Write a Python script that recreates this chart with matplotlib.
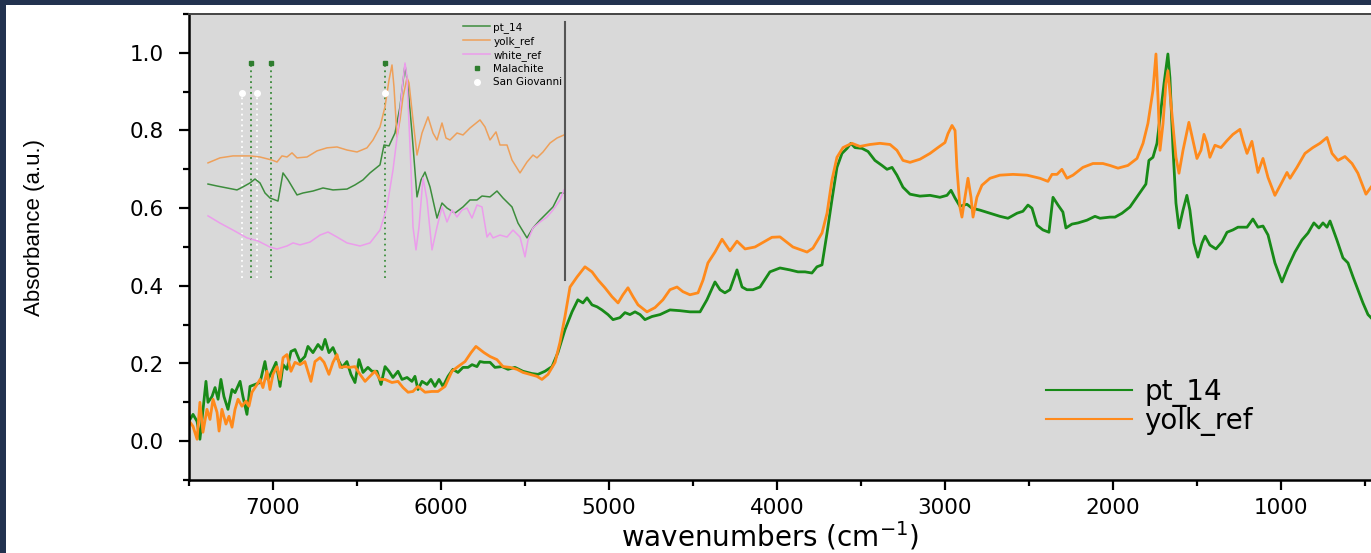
import numpy as np
import matplotlib
matplotlib.use("Agg")
import matplotlib.pyplot as plt
from matplotlib.patches import Rectangle
from matplotlib.ticker import MultipleLocator

# main spectra (wavenumber, absorbance)
pt14_wn = [7494, 7476, 7452, 7435, 7417, 7399, 7387, 7363, 7345, 7327, 7310, 7292, 7268, 7244,
           7226, 7196, 7179, 7155, 7137, 7107, 7077, 7048, 7030, 7006, 6982, 6958, 6940, 6917,
           6893, 6869, 6839, 6810, 6792, 6762, 6732, 6708, 6690, 6667, 6643, 6613, 6589, 6560,
           6536, 6512, 6488, 6464, 6435, 6411, 6381, 6357, 6333, 6310, 6286, 6256, 6232, 6202,
           6173, 6155, 6137, 6113, 6083, 6060, 6036, 6012, 5988, 5958, 5929, 5899, 5869, 5839,
           5815, 5786, 5768, 5744, 5708, 5679, 5637, 5601, 5560, 5512, 5458, 5423, 5381, 5339,
           5304, 5262, 5220, 5185, 5155, 5131, 5101, 5071, 5042, 5006, 4976, 4935, 4905, 4875,
           4845, 4815, 4786, 4744, 4696, 4637, 4577, 4518, 4458, 4417, 4369, 4339, 4310, 4280,
           4238, 4208, 4179, 4143, 4101, 4042, 3982, 3923, 3875, 3833, 3792, 3762, 3732, 3702,
           3673, 3643, 3613, 3583, 3560, 3536, 3494, 3458, 3417, 3375, 3345, 3315, 3286, 3250,
           3208, 3149, 3089, 3030, 2988, 2964, 2940, 2911, 2869, 2839, 2792, 2732, 2673, 2625,
           2571, 2536, 2506, 2482, 2452, 2417, 2381, 2357, 2327, 2298, 2280, 2244, 2208, 2155,
           2107, 2077, 2018, 1988, 1946, 1899, 1851, 1804, 1786, 1762, 1738, 1720, 1696, 1673,
           1661, 1643, 1625, 1607, 1583, 1560, 1542, 1518, 1494, 1470, 1452, 1423, 1387, 1351,
           1321, 1286, 1256, 1202, 1167, 1137, 1107, 1077, 1036, 994, 958, 917, 875, 839, 804,
           774, 750, 726, 708, 667, 631, 601, 571, 542, 512, 482, 464]
pt14_abs = [.056, .069, .051, .005, .080, .154, .100, .115, .138, .108, .159, .115, .082, .133,
            .125, .154, .115, .069, .141, .146, .151, .205, .159, .180, .203, .141, .197, .185,
            .231, .236, .205, .218, .244, .228, .249, .236, .262, .228, .241, .210, .190, .205,
            .172, .151, .210, .177, .190, .180, .180, .146, .192, .180, .164, .180, .159, .164,
            .154, .167, .133, .154, .146, .159, .141, .159, .141, .167, .185, .177, .190, .190,
            .197, .192, .205, .203, .203, .190, .192, .185, .190, .180, .174, .172, .180, .192,
            .228, .287, .333, .364, .356, .369, .351, .346, .338, .326, .313, .318, .331, .326,
            .333, .326, .313, .321, .326, .338, .336, .333, .333, .364, .410, .390, .382, .390,
            .441, .397, .390, .390, .397, .436, .446, .441, .436, .436, .433, .449, .454, .536,
            .621, .705, .741, .754, .767, .756, .754, .746, .723, .710, .700, .705, .685, .654,
            .636, .631, .633, .628, .633, .646, .626, .605, .610, .600, .595, .587, .579, .574,
            .587, .592, .608, .600, .556, .544, .538, .628, .608, .590, .549, .559, .562, .569,
            .579, .574, .577, .577, .587, .603, .633, .662, .723, .731, .767, .833, .921, .997,
            .936, .756, .613, .549, .595, .633, .595, .510, .474, .510, .528, .505, .495, .513,
            .538, .544, .551, .551, .572, .551, .554, .531, .459, .410, .449, .487, .518, .536, .562,
            .549, .562, .551, .567, .518, .472, .459, .423, .390, .356, .326, .318]

yolk_wn = [7494, 7476, 7452, 7435, 7417, 7393, 7375, 7357, 7333, 7321, 7304, 7280, 7262, 7244,
           7226, 7208, 7185, 7161, 7143, 7125, 7095, 7077, 7060, 7036, 7018, 7000, 6976, 6958,
           6940, 6917, 6893, 6869, 6839, 6810, 6774, 6750, 6720, 6696, 6667, 6643, 6619, 6601,
           6571, 6542, 6512, 6482, 6452, 6423, 6393, 6363, 6333, 6292, 6256, 6226, 6196, 6167,
           6137, 6095, 6054, 6018, 5976, 5935, 5899, 5857, 5821, 5792, 5768, 5744, 5708, 5667,
           5631, 5589, 5548, 5512, 5470, 5429, 5399, 5363, 5321, 5292, 5262, 5232, 5190, 5143,
           5101, 5065, 5024, 4982, 4946, 4917, 4887, 4857, 4827, 4774, 4726, 4679, 4637, 4595,
           4560, 4518, 4470, 4440, 4411, 4369, 4327, 4280, 4238, 4190, 4131, 4071, 4030, 3982,
           3905, 3821, 3786, 3732, 3702, 3673, 3643, 3607, 3554, 3506, 3446, 3387, 3327, 3286,
           3250, 3208, 3149, 3089, 3042, 3000, 2982, 2958, 2940, 2929, 2911, 2899, 2881, 2863,
           2845, 2833, 2810, 2780, 2732, 2673, 2595, 2512, 2435, 2387, 2363, 2333, 2304, 2274,
           2238, 2179, 2119, 2060, 2018, 1970, 1911, 1857, 1821, 1792, 1762, 1744, 1732, 1720,
           1702, 1685, 1673, 1649, 1625, 1607, 1583, 1548, 1524, 1500, 1476, 1458, 1440, 1423,
           1393, 1357, 1321, 1286, 1244, 1226, 1202, 1173, 1137, 1107, 1077, 1036, 994, 964, 946,
           905, 857, 810, 768, 726, 696, 661, 619, 577, 542, 494, 464]
yolk_abs = [.049, .038, .005, .100, .023, .082, .056, .108, .074, .026, .082, .044, .064, .036,
            .082, .108, .090, .103, .090, .126, .146, .159, .138, .180, .133, .172, .192, .159,
            .215, .223, .180, .203, .197, .205, .154, .205, .215, .203, .172, .203, .223, .190,
            .192, .190, .192, .172, .154, .167, .180, .159, .159, .151, .154, .138, .126, .128,
            .141, .126, .128, .128, .141, .180, .192, .205, .228, .244, .236, .228, .218, .210,
            .192, .190, .185, .177, .172, .167, .159, .172, .203, .254, .321, .397, .423, .449,
            .436, .415, .395, .372, .356, .377, .395, .372, .351, .333, .344, .364, .390, .397,
            .385, .377, .382, .415, .459, .487, .520, .490, .515, .495, .500, .515, .525, .526,
            .500, .487, .497, .536, .587, .672, .731, .756, .767, .759, .764, .767, .764, .749,
            .723, .718, .726, .741, .756, .769, .792, .813, .800, .705, .603, .577, .628, .677,
            .628, .577, .628, .659, .677, .685, .687, .685, .677, .669, .687, .687, .700, .677,
            .685, .705, .715, .715, .710, .703, .710, .728, .767, .818, .903, .997, .885, .749,
            .818, .921, .954, .844, .731, .690, .749, .821, .774, .728, .749, .790, .767, .731,
            .762, .756, .774, .790, .803, .774, .741, .772, .692, .728, .679, .633, .667, .692,
            .677, .705, .741, .756, .767, .782, .741, .723, .733, .715, .690, .636, .654]

# inset spectra (arbitrary units)
in_pt14_x = [3970, 3880, 3780, 3680, 3620, 3550, 3500, 3450, 3400, 3350, 3270, 3220, 3170, 3080,
             3020, 2920, 2820, 2720, 2580, 2500, 2420, 2350, 2250, 2210, 2160, 2100, 2050, 2000,
             1970, 1930, 1880, 1840, 1800, 1750, 1680, 1630, 1580, 1500, 1420, 1350, 1280, 1230,
             1150, 1080, 1020, 930, 870, 780, 720, 650, 580, 520, 450, 410]
in_pt14_y = [.440, .431, .422, .413, .427, .445, .463, .445, .399, .376, .362, .491, .459, .390,
             .399, .408, .422, .413, .417, .436, .459, .491, .528, .619, .615, .674, .794, .986,
             .885, .674, .381, .459, .495, .427, .284, .353, .330, .307, .335, .367, .367, .385,
             .381, .408, .376, .335, .261, .193, .239, .275, .307, .335, .399, .399]
in_yolk_x = [3970, 3850, 3720, 3550, 3450, 3330, 3280, 3230, 3180, 3130, 3080, 2980, 2880, 2780,
             2680, 2580, 2480, 2380, 2320, 2250, 2200, 2160, 2130, 2110, 2080, 2050, 2020, 1980,
             1960, 1920, 1880, 1830, 1770, 1720, 1680, 1630, 1590, 1550, 1480, 1420, 1350, 1250,
             1200, 1150, 1090, 1050, 980, 930, 850, 780, 720, 680, 620, 550, 480, 410]
in_yolk_y = [.537, .560, .569, .569, .564, .550, .541, .569, .564, .583, .560, .564, .592, .606,
             .610, .596, .587, .606, .642, .702, .794, .917, .986, .885, .656, .734, .839, .927,
             .904, .734, .573, .674, .748, .674, .642, .720, .651, .642, .674, .665, .697, .734,
             .702, .642, .679, .619, .619, .550, .491, .541, .573, .560, .587, .628, .651, .665]
in_white_x = [3970, 3850, 3720, 3580, 3470, 3350, 3280, 3180, 3120, 3050, 2950, 2850, 2770, 2680,
              2580, 2450, 2350, 2250, 2180, 2120, 2070, 2020, 2000, 1980, 1940, 1920, 1890, 1860,
              1820, 1780, 1730, 1680, 1630, 1580, 1530, 1480, 1430, 1380, 1330, 1280, 1230, 1180,
              1150, 1120, 1050, 980, 920, 850, 800, 770, 720, 650, 580, 520, 450, 410]
in_white_y = [.294, .261, .229, .193, .179, .151, .142, .156, .170, .161, .174, .206, .220, .197,
              .170, .156, .170, .229, .335, .505, .688, .917, .995, .931, .505, .243, .138, .243,
              .468, .367, .138, .243, .335, .266, .321, .289, .321, .330, .284, .344, .335, .197,
              .216, .193, .206, .197, .229, .197, .106, .183, .239, .266, .289, .321, .367, .413]

malachite_x = [3540, 3340, 2200]
san_giovanni_x = [3630, 3480, 2200]

GREEN = "#188a18"
ORANGE = "#ff8a1c"

fig = plt.figure(figsize=(13.71, 5.53), dpi=100, facecolor="#22324f")
fig.patches.append(Rectangle((6 / 1371, 0), 1, 1 - 5 / 553, transform=fig.transFigure,
                             facecolor="white", edgecolor="none", zorder=-10))

ax = fig.add_axes([189 / 1371, 1 - 480 / 553, 1 - 189 / 1371, 466 / 553])
ax.set_facecolor("#d9d9d9")
ax.plot(pt14_wn, pt14_abs, color=GREEN, lw=2.0, label="pt_14")
ax.plot(yolk_wn, yolk_abs, color=ORANGE, lw=2.0, label="yolk_ref")
ax.set_xlim(7500, 464)
ax.set_ylim(-0.1, 1.1)
ax.xaxis.set_major_locator(MultipleLocator(1000))
ax.xaxis.set_minor_locator(MultipleLocator(500))
ax.yaxis.set_major_locator(MultipleLocator(0.2))
ax.yaxis.set_minor_locator(MultipleLocator(0.1))
ax.yaxis.set_major_formatter(matplotlib.ticker.FormatStrFormatter("%.1f"))
ax.tick_params(which="major", direction="out", length=7, width=1.6, labelsize=15.5, pad=6)
ax.tick_params(which="minor", direction="out", length=4, width=1.6)
ax.tick_params(axis="y", pad=11)
for s in ["left", "bottom"]:
    ax.spines[s].set_linewidth(1.8)
ax.spines["top"].set_color("#444444")
ax.spines["top"].set_linewidth(1.4)
ax.spines["right"].set_visible(False)

leg = ax.legend(loc="upper left", bbox_to_anchor=(1046 / 1371, 1 - 378 / 553),
                bbox_transform=fig.transFigure, frameon=False, fontsize=20,
                handlelength=3.1, handletextpad=0.45, labelspacing=0.0,
                borderpad=0, borderaxespad=0)
for h in leg.get_lines():
    h.set_linewidth(1.5)

fig.text(35 / 1371, 1 - 228 / 553, "Absorbance (a.u.)", rotation=90, ha="center",
         va="center", fontsize=16, family=["Liberation Sans Narrow", "Liberation Sans"])
fig.text(770 / 1371, 1 - 536 / 553, "wavenumbers (cm$^{-1}$)", ha="center", va="center",
         fontsize=20)

# inset
ins = fig.add_axes([205 / 1371, 1 - 280 / 553, 360 / 1371, 258 / 553])
ins.set_facecolor("none")
ins.set_xlim(4000, 400)
ins.set_ylim(0, 1.183)
for s in ["left", "top", "bottom"]:
    ins.spines[s].set_visible(False)
ins.spines["right"].set_color("#555555")
ins.spines["right"].set_linewidth(1.5)
ins.set_xticks([])
ins.set_yticks([])

for x in san_giovanni_x:
    ins.plot([x, x], [0.01, 0.858], color="white", ls=(0, (1, 2)), lw=1.3)
for x in malachite_x:
    ins.plot([x, x], [0.01, 0.995], color="#3a8a3a", ls=(0, (1, 2)), lw=1.3)
ins.plot(in_pt14_x, in_pt14_y, color="#3d8d3d", lw=1.1, label="pt_14")
ins.plot(in_yolk_x, in_yolk_y, color="#eea05a", lw=1.1, label="yolk_ref")
ins.plot(in_white_x, in_white_y, color="#ec9cec", lw=1.1, label="white_ref")
ins.plot(malachite_x, [0.995] * 3, ls="none", marker="s", ms=2.5, color="#2e7d2e",
         label="Malachite")
ins.plot(san_giovanni_x, [0.858] * 3, ls="none", marker="o", ms=4, color="white",
         label="San Giovanni")
ins.legend(loc="upper left", bbox_to_anchor=(463 / 1371, 1 - 22 / 553),
           bbox_transform=fig.transFigure, frameon=False, fontsize=7.5,
           handlelength=2.6, handletextpad=0.3, labelspacing=0.3, borderpad=0,
           borderaxespad=0, markerscale=1)

fig.savefig("out.png", dpi=100, facecolor=fig.get_facecolor())
